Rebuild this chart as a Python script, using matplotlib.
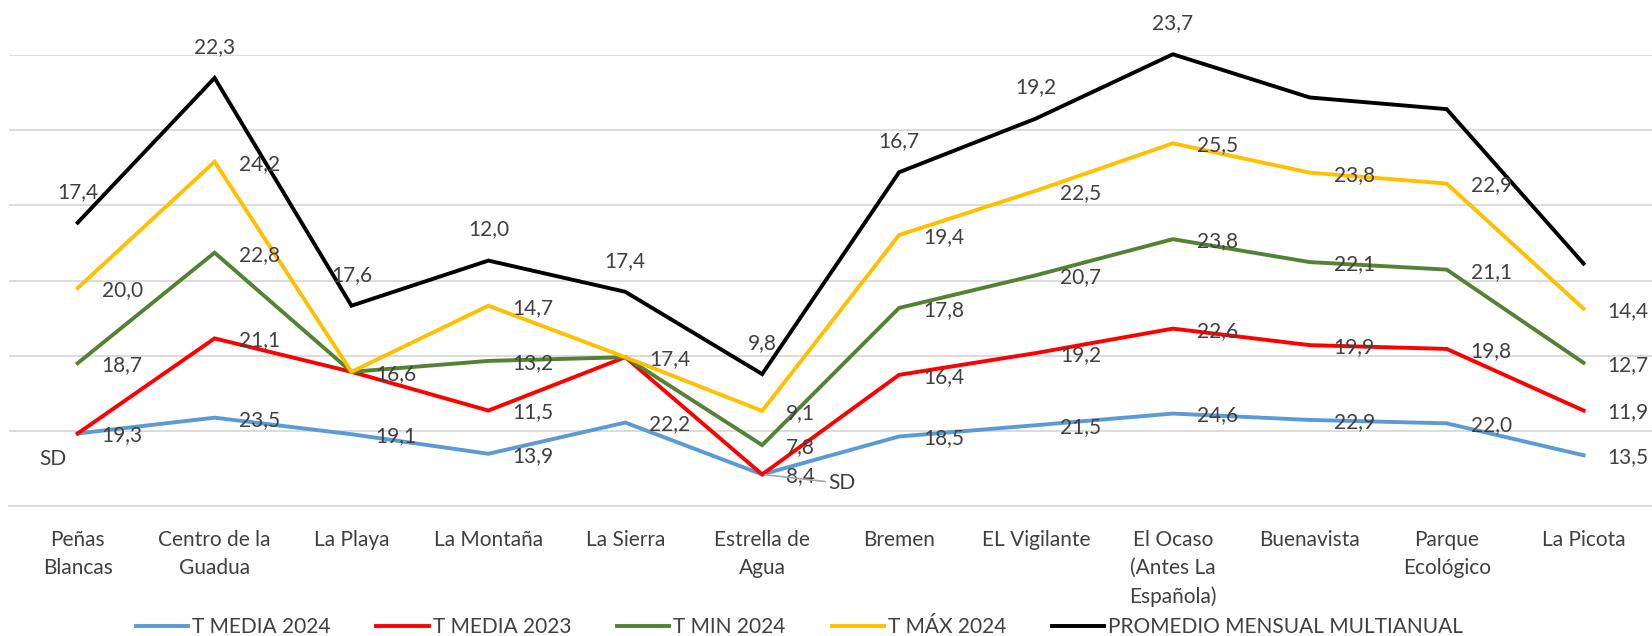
import numpy as np
import matplotlib
matplotlib.use("Agg")
import matplotlib.pyplot as plt

plt.rcParams['font.family'] = ['Lato', 'DejaVu Sans']

categories = ["Peñas\nBlancas", "Centro de la\nGuadua", "La Playa", "La Montaña",
              "La Sierra", "Estrella de\nAgua", "Bremen", "EL Vigilante",
              "El Ocaso\n(Antes La\nEspañola)", "Buenavista", "Parque\nEcológico", "La Picota"]

t_media_2024 = [19.3, 23.5, 19.1, 13.9, 22.2, 8.4, 18.5, 21.5, 24.6, 22.9, 22.0, 13.5]
t_media_2023 = ["SD", 21.1, 16.6, 11.5, 17.4, "SD", 16.4, 19.2, 22.6, 19.9, 19.8, 11.9]
t_min_2024 = [18.7, 22.8, None, 13.2, None, 7.8, 17.8, 20.7, 23.8, 22.1, 21.1, 12.7]
t_max_2024 = [20.0, 24.2, None, 14.7, None, 9.1, 19.4, 22.5, 25.5, 23.8, 22.9, 14.4]
promedio = [17.4, 22.3, 17.6, 12.0, 17.4, 9.8, 16.7, 19.2, 23.7, 20.0, 19.8, 12.0]
promedio_labelled = [True, True, True, True, True, True, True, True, True, False, False, False]

series_names = ["T MEDIA 2024", "T MEDIA 2023", "T MIN 2024", "T MÁX 2024",
                "PROMEDIO MENSUAL MULTIANUAL"]
series_data = [t_media_2024, t_media_2023, t_min_2024, t_max_2024, promedio]
colors = ["#5B9BD5", "#FF0000", "#548235", "#FFC000", "#000000"]

TXT = "#404040"
FS = 15

fig = plt.figure(figsize=(16.52, 6.36), dpi=100)
ax = fig.add_axes([0.0056, 0.2044, 0.9944, 0.7091])

x = np.arange(len(categories))


def num(v):
    return float(v) if isinstance(v, (int, float)) else 0.0


cum = np.zeros(len(categories))
cums = []
for data in series_data:
    cum = cum + np.array([num(v) for v in data])
    cums.append(cum.copy())

for k, (name, data, col) in enumerate(zip(series_names, series_data, colors)):
    ax.plot(x, cums[k], color=col, lw=2.8, label=name, clip_on=False,
            solid_joinstyle='miter', zorder=3 + k * 0.01)

# data labels
for k, data in enumerate(series_data):
    for j, v in enumerate(data):
        y = cums[k][j]
        if v is None:
            continue
        if k == 4:
            if not promedio_labelled[j]:
                continue
            ax.annotate(f"{v:.1f}".replace(".", ","), xy=(x[j], y), xytext=(0, 31),
                        textcoords='offset pixels', ha='center', va='center',
                        fontsize=FS, color=TXT, zorder=6, annotation_clip=False)
        elif v == "SD":
            if j == 0:
                ax.annotate("SD", xy=(x[j], y), xytext=(-25, -26),
                            textcoords='offset pixels', ha='center', va='center',
                            fontsize=FS, color=TXT, zorder=6, annotation_clip=False)
            else:
                ax.annotate("SD", xy=(x[j], y), xytext=(66, -9),
                            textcoords='offset pixels', ha='left', va='center',
                            fontsize=FS, color=TXT, zorder=6, annotation_clip=False,
                            arrowprops=dict(arrowstyle='-', color='#a6a6a6', lw=1.2,
                                            shrinkA=0, shrinkB=2))
        else:
            ax.annotate(f"{v:.1f}".replace(".", ","), xy=(x[j], y), xytext=(24, -2),
                        textcoords='offset pixels', ha='left', va='center',
                        fontsize=FS, color=TXT, zorder=6, annotation_clip=False)

ax.set_xlim(-0.5, len(categories) - 0.5)
ax.set_ylim(0, 120)
ax.set_yticks(np.arange(0, 121, 20))
ax.yaxis.grid(True, color='#d9d9d9', lw=1.3)
ax.set_axisbelow(True)
ax.tick_params(axis='y', left=False, labelleft=False)
ax.set_xticks(x)
ax.set_xticklabels(categories, fontsize=FS, color=TXT, linespacing=1.5, va='top')
ax.tick_params(axis='x', length=0, pad=17)
for s in ['top', 'right', 'left']:
    ax.spines[s].set_visible(False)
ax.spines['bottom'].set_color('#d9d9d9')
ax.spines['bottom'].set_linewidth(1.3)

leg = fig.legend(loc='center', bbox_to_anchor=(0.484, 0.0142), ncol=5, frameon=False,
                 fontsize=FS, handlelength=2.5, handletextpad=0.2, columnspacing=2.2,
                 borderaxespad=0, borderpad=0)
for t in leg.get_texts():
    t.set_color(TXT)
for h in leg.legend_handles:
    h.set_linewidth(2.8)

fig.savefig("out.png", dpi=100)
